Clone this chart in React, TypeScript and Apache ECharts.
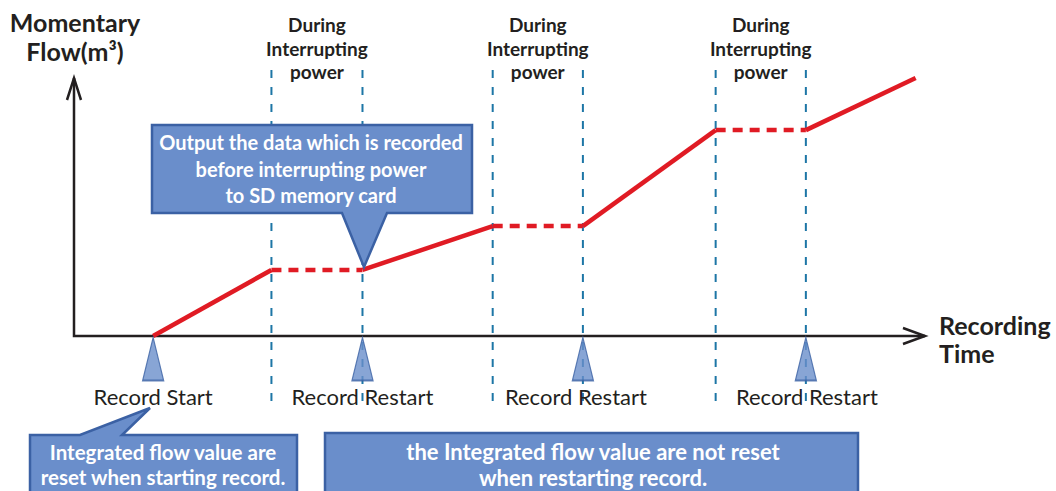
import React, { useEffect, useRef } from "react";
import * as echarts from "echarts";

// ---- data ----
const pointTimes = [9.3, 23.2, 33.9, 49.2, 59.8, 75.4, 86.0, 98.9];
const pointFlows = [0, 25.6, 25.6, 42.6, 42.6, 79.8, 79.8, 100];
const segmentKinds = ["record", "interrupt", "record", "interrupt", "record", "interrupt", "record"];
const interruptStarts = [23.2, 49.2, 75.4];
const interruptEnds = [33.9, 59.8, 86.0];
const markerTimes = [9.3, 33.9, 59.8, 86.0];
const markerLabels = ["Record Start", "Record Restart", "Record Restart", "Record Restart"];
const periodLabel = "During\nInterrupting\npower";
const yAxisTitle = ["Momentary", "Flow(m³)"];
const xAxisTitle = ["Recording", "Time"];
const calloutTop = ["Output the data which is recorded", "before interrupting power", "to SD memory card"];
const calloutLeft = ["Integrated flow value are", "reset when starting record."];
const calloutRight = ["the Integrated flow value are not reset", "when restarting record."];

const FONT = "Lato, 'Open Sans', sans-serif";
const RED = "#e01b24";
const BLUE_DASH = "#1d76a6";
const FILL = "#6a8ecb";
const EDGE = "#3b61a4";
const INK = "#231f20";

const labelShift = [0, 0, -7, 1];

export default function App() {
  const ref = useRef<HTMLDivElement>(null);
  useEffect(() => {
    if (!ref.current) return;
    const chart = echarts.init(ref.current, null, { renderer: "svg" });

    const lineSeries: any[] = segmentKinds.map((kind, i) => ({
      type: "line",
      data: [
        [pointTimes[i], pointFlows[i]],
        [pointTimes[i + 1], pointFlows[i + 1]],
      ],
      symbol: "none",
      silent: true,
      z: 5,
      lineStyle: {
        color: RED,
        width: 4.5,
        type: kind === "record" ? "solid" : [10, 7],
        cap: "butt",
      },
    }));

    const boundaries = interruptStarts.concat(interruptEnds).map((t) => [t, 0]);

    const option: any = {
      animation: false,
      backgroundColor: "#ffffff",
      grid: { left: 74, right: 131, top: 78, bottom: 155 },
      xAxis: { type: "value", min: 0, max: 100, show: false },
      yAxis: { type: "value", min: 0, max: 100, show: false },
      series: [
        {
          type: "custom",
          data: [[0, 0]],
          z: 3,
          silent: true,
          renderItem: (params: any, api: any) => {
            const o = api.coord([0, 0]);
            const yt = api.coord([0, 100]);
            const xt = api.coord([100, 0]);
            const st = { stroke: INK, lineWidth: 2.5, fill: "none" };
            return {
              type: "group",
              children: [
                { type: "polyline", shape: { points: [yt, o, xt] }, style: st },
                {
                  type: "polyline",
                  shape: { points: [[yt[0] - 7, yt[1] + 22], yt, [yt[0] + 7, yt[1] + 22]] },
                  style: st,
                },
                {
                  type: "polyline",
                  shape: { points: [[xt[0] - 22, xt[1] - 8], xt, [xt[0] - 22, xt[1] + 8]] },
                  style: st,
                },
              ],
            };
          },
        },
        {
          type: "custom",
          data: boundaries,
          z: 2,
          silent: true,
          renderItem: (params: any, api: any) => {
            const t = api.value(0);
            const top = api.coord([t, 100]);
            const bot = api.coord([t, 0]);
            return {
              type: "line",
              shape: { x1: top[0], y1: top[1] - 8, x2: bot[0], y2: bot[1] + 74 },
              style: { stroke: BLUE_DASH, lineWidth: 2, lineDash: [8, 9] },
            };
          },
        },
        {
          type: "custom",
          data: interruptStarts.map((s, i) => [(s + interruptEnds[i]) / 2, 100]),
          z: 4,
          silent: true,
          renderItem: (params: any, api: any) => {
            const p = api.coord([api.value(0), api.value(1)]);
            return {
              type: "text",
              style: {
                text: periodLabel,
                x: p[0],
                y: p[1] - 65,
                align: "center",
                verticalAlign: "top",
                fill: INK,
                font: `bold 19px ${FONT}`,
                lineHeight: 23.5,
              },
            };
          },
        },
        ...lineSeries,
        {
          type: "scatter",
          data: markerTimes.map((t) => [t, 0]),
          symbol: "triangle",
          symbolSize: [21, 43],
          symbolOffset: [0, 23],
          z: 6,
          silent: true,
          itemStyle: { color: FILL, borderColor: EDGE, borderWidth: 1.5 },
        },
        {
          type: "custom",
          data: markerTimes.map((t) => [t, 0]),
          z: 6,
          silent: true,
          renderItem: (params: any, api: any) => {
            const p = api.coord([api.value(0), api.value(1)]);
            return {
              type: "text",
              style: {
                text: markerLabels[params.dataIndex],
                x: p[0] + labelShift[params.dataIndex],
                y: p[1] + 60,
                align: "center",
                verticalAlign: "middle",
                fill: INK,
                font: `22px ${FONT}`,
              },
            };
          },
        },
      ],
      graphic: [
        {
          type: "text",
          style: {
            text: yAxisTitle.join("\n"),
            x: 75,
            y: 7,
            align: "center",
            verticalAlign: "top",
            fill: INK,
            font: `bold 25px ${FONT}`,
            lineHeight: 29,
          },
        },
        {
          type: "text",
          style: {
            text: xAxisTitle.join("\n"),
            x: 939,
            y: 311,
            align: "left",
            verticalAlign: "top",
            fill: INK,
            font: `bold 25px ${FONT}`,
            lineHeight: 28,
          },
        },
        {
          type: "polygon",
          z: 10,
          shape: {
            points: [
              [152, 125], [472, 125], [472, 213], [387, 213], [364, 267], [342, 213], [152, 213],
            ],
          },
          style: { fill: FILL, stroke: EDGE, lineWidth: 2.5 },
        },
        {
          type: "text",
          z: 11,
          style: {
            text: calloutTop.join("\n"),
            x: 311,
            y: 129,
            align: "center",
            verticalAlign: "top",
            fill: "#ffffff",
            font: `bold 20px ${FONT}`,
            lineHeight: 26.5,
          },
        },
        {
          type: "polygon",
          z: 10,
          shape: {
            points: [[30, 435], [80, 435], [150, 408], [122, 435], [297, 435], [297, 500], [30, 500]],
          },
          style: { fill: FILL, stroke: EDGE, lineWidth: 2.5 },
        },
        {
          type: "text",
          z: 11,
          style: {
            text: calloutLeft.join("\n"),
            x: 163,
            y: 439,
            align: "center",
            verticalAlign: "top",
            fill: "#ffffff",
            font: `bold 20.5px ${FONT}`,
            lineHeight: 25,
          },
        },
        {
          type: "rect",
          z: 10,
          shape: { x: 325, y: 433, width: 533, height: 70 },
          style: { fill: FILL, stroke: EDGE, lineWidth: 2.5 },
        },
        {
          type: "text",
          z: 11,
          style: {
            text: calloutRight.join("\n"),
            x: 593,
            y: 438,
            align: "center",
            verticalAlign: "top",
            fill: "#ffffff",
            font: `bold 22px ${FONT}`,
            lineHeight: 26,
          },
        },
      ],
    };
    chart.setOption(option);
    return () => chart.dispose();
  }, []);

  return (
    <div
      ref={ref}
      style={{ position: "absolute", left: 0, top: 0, width: 1056, height: 491, background: "#fff" }}
    />
  );
}
